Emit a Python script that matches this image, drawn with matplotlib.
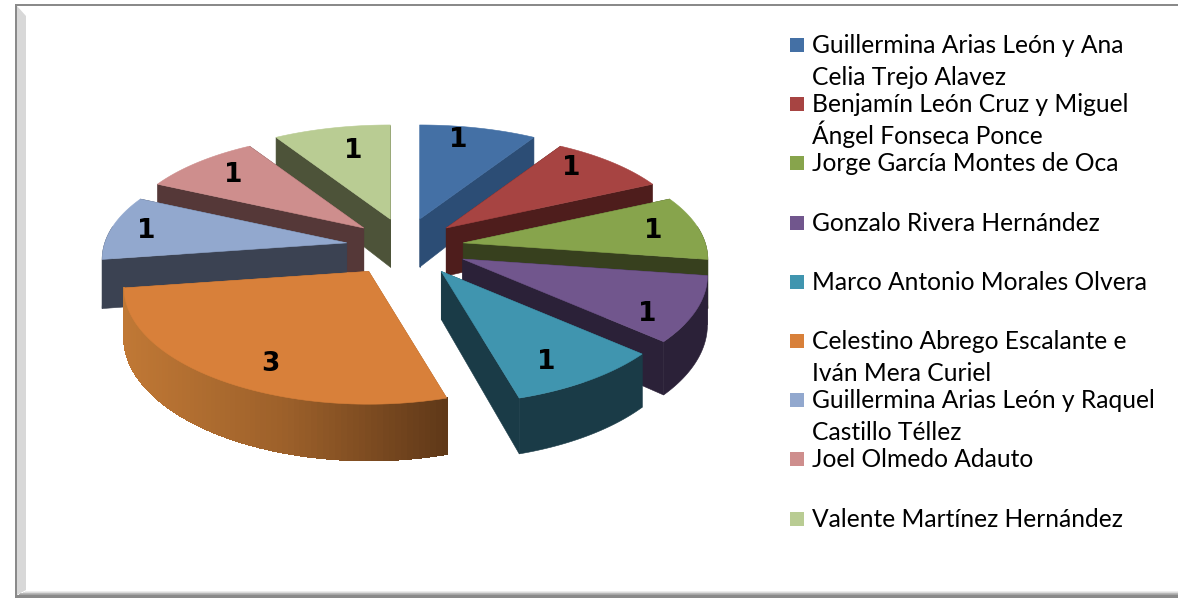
import numpy as np
import matplotlib
matplotlib.use('Agg')
import matplotlib.pyplot as plt
from matplotlib.colors import to_rgb
from matplotlib.patches import Polygon, Rectangle

# data
names = ['Guillermina Arias León y Ana\nCelia Trejo Alavez',
         'Benjamín León Cruz y Miguel\nÁngel Fonseca Ponce',
         'Jorge García Montes de Oca',
         'Gonzalo Rivera Hernández',
         'Marco Antonio Morales Olvera',
         'Celestino Abrego Escalante e\nIván Mera Curiel',
         'Guillermina Arias León y Raquel\nCastillo Téllez',
         'Joel Olmedo Adauto',
         'Valente Martínez Hernández']
values = [1, 1, 1, 1, 1, 3, 1, 1, 1]

top_colors = ['#4470A5', '#A74442', '#87A44C', '#71568D', '#4095AF',
              '#D8803A', '#92A8CE', '#CE8E8D', '#B9CC93']
wall_colors = ['#2C4D75', '#4E1D1C', '#37401E', '#2B2138', '#1A3B47',
               '#A5622A', '#3B4252', '#553838', '#4D5339']
label_pos = [(458, 140), (571, 168), (653, 231), (647, 314), (546, 362),
             (270, 364), (146, 231), (233, 175), (353, 151)]

# layout of the fake 3d pie, pixels
cx, cy = 405, 247
rx, ry = 242, 113.5
ex, ey = 60, 29
depth = 48
persp_x = 0.15
persp_y = 0.17


def rim(apex, t):
    x = apex[0] + rx * (1 - persp_x * np.cos(t)) * np.sin(t)
    y = apex[1] - ry * (1 - persp_y * np.cos(t)) * np.cos(t)
    return x, y


def draw_slice(ax, t0, t1, top, wall, gradient=False):
    mid = (t0 + t1) / 2
    apex = (cx + ex * np.sin(mid) * (1 - 0.14 * np.cos(mid)), cy - ey * np.cos(mid))
    ts = np.linspace(t0, t1, 80)
    xs, ys = rim(apex, ts)
    hs = depth * (1 - persp_y * np.cos(ts))

    # straight cut faces first, the one further back goes first
    ends = sorted([(xs[0], ys[0], hs[0]), (xs[-1], ys[-1], hs[-1])], key=lambda p: p[1])
    for x, y, h in ends:
        ax.add_patch(Polygon([apex, (x, y), (x, y + h), (apex[0], apex[1] + depth)],
                             closed=True, fc=wall, ec=wall, lw=0.4))
    # outer wall
    front = np.cos(ts) < 0.15
    if gradient:
        stops = np.array([to_rgb('#C07835'), to_rgb('#9C602A'), to_rgb('#5F3818')])
        fx = (xs - xs.min()) / (xs.max() - xs.min())
        ax.add_patch(Polygon(np.column_stack([np.r_[xs, xs[::-1]], np.r_[ys, (ys + hs)[::-1]]]),
                             closed=True, fc=tuple(stops[1]), ec=tuple(stops[1]), lw=0.6))
        for i in range(len(ts) - 1):
            f = (fx[i] + fx[i + 1]) / 2
            color = tuple(np.interp(f, [0, 0.5, 1], stops[:, c]) for c in range(3))
            ax.add_patch(Polygon([(xs[i], ys[i]), (xs[i + 1], ys[i + 1]),
                                  (xs[i + 1], ys[i + 1] + hs[i + 1]), (xs[i], ys[i] + hs[i])],
                                 closed=True, fc=color, ec=color, lw=0.8, antialiased=False))
    elif front.any():
        wx, wy, wh = xs[front], ys[front], hs[front]
        ax.add_patch(Polygon(np.column_stack([np.r_[wx, wx[::-1]], np.r_[wy, (wy + wh)[::-1]]]),
                             closed=True, fc=wall, ec=wall, lw=0.4))
    ax.add_patch(Polygon(np.vstack([apex, np.column_stack([xs, ys])]), closed=True,
                         fc=top, ec=top, lw=0.4))


fig = plt.figure(figsize=(11.78, 5.98), dpi=100)
ax = fig.add_axes([0, 0, 1, 1])
ax.set_xlim(0, 1178)
ax.set_ylim(598, 0)
ax.axis('off')

# chart frame with bevel
ax.add_patch(Rectangle((15, 4), 1178, 600, fc='#8A8A8A', ec='none'))
ax.add_patch(Rectangle((17, 6), 1178, 589, fc='white', ec='none'))
ax.add_patch(Polygon([(17, 6), (26, 16), (26, 590), (17, 595)], closed=True, fc='#D8D8D8', ec='none'))
for i, g in enumerate(np.linspace(1, 0.65, 6)):
    ax.add_patch(Rectangle((17 + 9 * (1 - i / 6), 590 + i * 5 / 6), 1178, 1, fc=str(g), ec='none'))

total = sum(values)
edges = np.cumsum([0] + values) / total * 2 * np.pi
mids = (edges[:-1] + edges[1:]) / 2
apex_y = cy - ey * np.cos(mids)
for k in np.argsort(apex_y, kind='stable'):
    draw_slice(ax, edges[k], edges[k + 1], top_colors[k], wall_colors[k], gradient=values[k] == 3)

for v, (x, y) in zip(values, label_pos):
    ax.text(x, y, str(v), ha='center', va='center', fontsize=19, fontweight='bold',
            family='DejaVu Sans', color='black')

# legend
legend_y = 45
step = 59.2
for i, name in enumerate(names):
    y = legend_y + i * step
    ax.add_patch(Rectangle((790, y - 7), 14, 14, fc=top_colors[i], ec='none'))
    for j, line in enumerate(name.split('\n')):
        ax.text(812, y + 8 + j * 32, line, ha='left', va='baseline', fontsize=17.7,
                family='Lato', color='black')

fig.savefig('out.png', dpi=100)
